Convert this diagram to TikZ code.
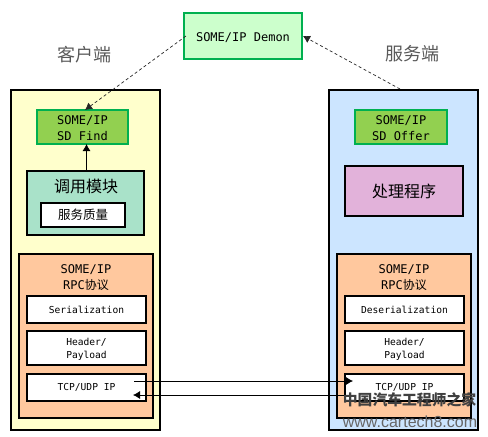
\documentclass[tikz,border=0pt]{standalone}
\usepackage{fontspec}
\setmainfont{DejaVu Sans Mono}
\newfontfamily\cjk{Noto Sans CJK SC}
\newfontfamily\wm{Liberation Sans}
\usetikzlibrary{arrows.meta}
\definecolor{cyellow}{HTML}{FFFFCC}
\definecolor{cblue}{HTML}{CCE5FF}
\definecolor{cgreenl}{HTML}{CCFFCC}
\definecolor{cgreen}{HTML}{92D050}
\definecolor{cgreenb}{HTML}{00B050}
\definecolor{cteal}{HTML}{A9E2C9}
\definecolor{cpink}{HTML}{E2B2DA}
\definecolor{corange}{HTML}{FFC89E}
\tikzset{
  gbox/.style={draw=cgreenb,line width=1.8pt,inner sep=0pt,outer sep=0pt,align=center},
  blk/.style={draw=black,line width=1.8pt,inner sep=0pt,outer sep=0pt,align=center},
  mono12/.style={font=\fontsize{12}{16}\selectfont},
  mono10/.style={font=\fontsize{9.6}{13.5}\selectfont},
  grey/.style={text=black!65,font=\cjk\fontsize{18}{20}\selectfont},
  dashlink/.style={draw=black!85,line width=0.7pt,dash pattern=on 3pt off 2.5pt,-{Latex[length=7pt,width=8pt]}},
  link/.style={draw=black,line width=0.8pt,-{Latex[length=7pt,width=8pt]}},
}
\newcommand{\rect}[7]{% name, x0, y0, x1, y1, style, text
  \node[#6,anchor=north west,minimum width=#4pt-#2pt,minimum height=#5pt-#3pt] (#1) at (#2,#3) {#7};}
\newcommand{\dn}[1]{\raisebox{-1.5pt}[\height][\depth]{#1}}
\begin{document}
\begin{tikzpicture}[x=1pt,y=-1pt]
\useasboundingbox (0,0) rectangle (488,437);
\rect{client}{11}{90}{160}{430}{blk,fill=cyellow}{}
\rect{server}{329}{90}{478}{430}{blk,fill=cblue}{}
\rect{demon}{184}{13}{302}{59}{gbox,fill=cgreenl,mono12}{\dn{SOME/IP Demon}}
\node[grey] (lc) at (84,55) {客户端};
\node[grey] (ls) at (412,54) {服务端};
\rect{find}{37}{110}{128}{144}{gbox,fill=cgreen,mono12}{\dn{SOME/IP}\\\dn{SD Find}}
\rect{offer}{355}{110}{447}{144}{gbox,fill=cgreen,mono12}{\dn{SOME/IP}\\\dn{SD Offer}}
\rect{call}{27}{171}{144}{235}{blk,fill=cteal}{}
\node[font=\cjk\fontsize{16}{18}\selectfont] (calltxt) at (86,186) {调用模块};
\rect{qos}{41}{203}{125}{227}{blk,fill=white,font=\cjk\fontsize{12.5}{14}\selectfont}{服务质量}
\rect{handler}{345}{166}{463}{216}{blk,fill=cpink,font=\cjk\fontsize{16}{18}\selectfont}{处理程序}
\rect{rpcl}{19}{254}{153}{418}{blk,fill=corange}{}
\rect{rpcr}{337}{254}{471}{418}{blk,fill=corange}{}
\node[align=center,mono12] (rl) at (86,277.5) {SOME/IP\\RPC{\cjk 协议}};
\node[align=center,mono12] (rr) at (404,277.5) {SOME/IP\\RPC{\cjk 协议}};
\rect{serl}{27}{296}{146}{323}{blk,fill=white,mono10}{Serialization}
\rect{hdrl}{27}{331}{146}{365}{blk,fill=white,mono10}{\dn{Header/}\\\dn{Payload}}
\rect{tcpl}{27}{374}{146}{401}{blk,fill=white,mono10}{TCP/UDP IP}
\rect{serr}{345}{296}{464}{323}{blk,fill=white,mono10}{Deserialization}
\rect{hdrr}{345}{331}{464}{365}{blk,fill=white,mono10}{\dn{Header/}\\\dn{Payload}}
\rect{tcpr}{345}{374}{464}{401}{blk,fill=white,mono10}{TCP/UDP IP}
\coordinate (a1) at (134,381);
\coordinate (a2) at (353,381);
\coordinate (b1) at (345,395);
\coordinate (b2) at (133,395);
\coordinate (d1) at (186,36);
\coordinate (d2) at (85,110);
\coordinate (d3) at (400,89);
\coordinate (d4) at (303,36);
\draw[link] (call.north) ++(1,0) coordinate (c1) -- (c1 |- find.south);
\draw[dashlink] (d1) -- (d2);
\draw[dashlink] (d3) -- (d4);
\draw[link] (a1) -- (a2);
\draw[link] (b1) -- (b2);
\node[font=\cjk\bfseries\fontsize{14.8}{16}\selectfont,text=black!75,inner sep=0pt] (wm1) at (409.5,400) {中国汽车工程师之家};
\node[font=\wm\fontsize{16}{18}\selectfont,text=black!60,inner sep=0pt] (wm2) at (410,422) {www.cartech8.com};
\end{tikzpicture}
\end{document}
